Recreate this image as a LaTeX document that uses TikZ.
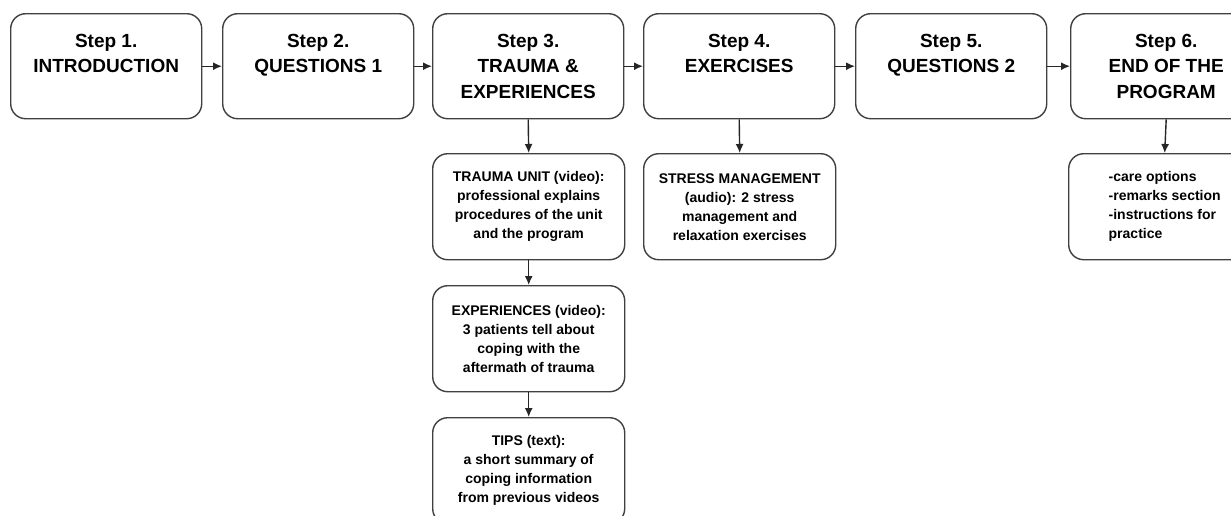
\documentclass[tikz,border=0pt]{standalone}
\usepackage{fontspec}
\setmainfont{Liberation Sans}
\usetikzlibrary{arrows.meta}
\tikzset{
  stepbox/.style={draw=black!75, line width=1.4pt, rounded corners=15pt, fill=white,
    minimum width=191pt, minimum height=105pt, anchor=north west, align=center,
    inner sep=0pt, text=black,
    font=\fontsize{19pt}{25.5pt}\selectfont\bfseries},
  subbox/.style={draw=black!75, line width=1.4pt, rounded corners=15pt, fill=white,
    minimum width=192pt, minimum height=106pt, anchor=north west, align=center,
    inner sep=0pt, text=black,
    font=\fontsize{14pt}{19pt}\selectfont\bfseries},
  conn/.style={draw=black!85, line width=1.4pt, -{Latex[length=9pt,width=8pt]}}
}
\begin{document}
\begin{tikzpicture}
\useasboundingbox (0,0) rectangle (1231pt,-515pt);
\clip (0,0) rectangle (1231pt,-515pt);
\fill[white] (0,0) rectangle (1231pt,-515pt);
\node[stepbox] (s1) at (10pt,-13pt) {Step 1.\\INTRODUCTION\\\phantom{X}};
\node[stepbox] (s2) at (222pt,-13pt) {Step 2.\\QUESTIONS 1\\\phantom{X}};
\node[stepbox] (s3) at (432pt,-13pt) {Step 3.\\TRAUMA \&\\EXPERIENCES};
\node[stepbox] (s4) at (643pt,-13pt) {Step 4.\\EXERCISES\\\phantom{X}};
\node[stepbox] (s5) at (855pt,-13pt) {Step 5.\\QUESTIONS 2\\\phantom{X}};
\node[stepbox] (s6) at (1070pt,-13pt) {Step 6.\\END OF THE\\PROGRAM};

\node[subbox] (tu) at (432pt,-153pt) {TRAUMA UNIT (video):\\professional explains\\procedures of the unit\\and the program};
\node[subbox] (ex) at (432pt,-285pt) {EXPERIENCES (video):\\3 patients tell about\\coping with the\\aftermath of trauma};
\node[subbox] (tp) at (432pt,-417pt) {TIPS (text):\\a short summary of\\coping information\\from previous videos};
\node[subbox] (sm) at (643pt,-153pt) {STRESS MANAGEMENT\\(audio): 2 stress\\management and\\relaxation exercises};
\node[subbox, align=left] (en) at (1068pt,-153pt) {-care options\\-remarks section\\-instructions for\\practice};

\draw[conn] (s1) -- (s2);
\draw[conn] (s2) -- (s3);
\draw[conn] (s3) -- (s4);
\draw[conn] (s4) -- (s5);
\draw[conn] (s5) -- (s6);
\draw[conn] (s3.south) -- (tu.north);
\draw[conn] (tu) -- (ex);
\draw[conn] (ex) -- (tp);
\draw[conn] (s4.south) -- (sm.north);
\draw[conn] (s6.south) -- (en.north);
\end{tikzpicture}
\end{document}
